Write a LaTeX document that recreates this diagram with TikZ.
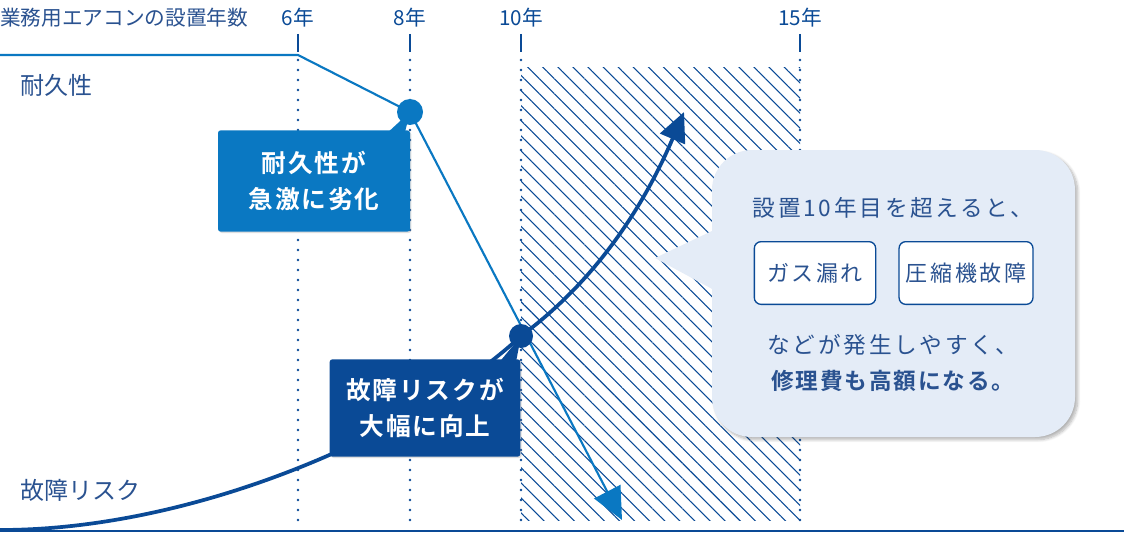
\documentclass[tikz,border=0pt]{standalone}
\usepackage{fontspec}
\setmainfont{Noto Sans CJK JP}
\newfontfamily\spfont[LetterSpace=12]{Noto Sans CJK JP}
\newfontfamily\spbfont[LetterSpace=8,BoldFont={Noto Sans CJK JP Bold}]{Noto Sans CJK JP}
\usetikzlibrary{patterns.meta,arrows.meta,shadows.blur}
\definecolor{navy}{HTML}{0A4A96}
\definecolor{mblue}{HTML}{0A78C2}
\definecolor{lbg}{HTML}{E4ECF7}
\definecolor{txt}{HTML}{2A5290}
\tikzset{
  yr/.style={text=navy,font=\fontsize{15.5}{15}\selectfont},
  vline/.style={navy,line width=2.2pt,dash pattern=on 0pt off 7.5pt,line cap=round},
  tick/.style={navy,line width=1pt},
  callout/.style={text=white,font=\spbfont\bfseries\fontsize{18.5}{27}\selectfont,align=center,rounded corners=2pt},
  optbox/.style={draw=navy,line width=1pt,fill=white,rounded corners=5pt,text=txt,font=\spfont\fontsize{16.5}{16}\selectfont,minimum height=47pt,inner xsep=5pt},
  ctext/.style={text=txt,font=\spfont\fontsize{17}{17}\selectfont},
}
\begin{document}
\begin{tikzpicture}[x=0.75pt,y=-0.75pt]
\useasboundingbox (0,0) rectangle (1124,535);
% hatched region
\fill[pattern={Lines[angle=-45,distance=8pt,line width=0.8pt]},pattern color=navy] (521,68) rectangle (800,520);
% header
\node[anchor=west,text=txt,font=\fontsize{15.5}{15}\selectfont,inner xsep=0pt] (hdr) at (0,18) {業務用エアコンの設置年数};
\foreach \x/\l/\n in {298/6年/a,410/8年/b,521/10年/c,800/15年/d}{
  \node[yr] (y\n) at (\x,18) {\l};
  \draw[tick] (\x,34) -- (\x,52);
  \draw[vline] (\x,60) -- (\x,530);
}
% baseline
\draw[navy,line width=1.2pt] (0,531) -- (1124,531);
% labels
\node[anchor=west,text=txt,font=\fontsize{18}{18}\selectfont] (lab1) at (16,85) {耐久性};
\node[anchor=west,text=txt,font=\fontsize{18}{18}\selectfont] (lab2) at (16,490) {故障リスク};
% durability line
\coordinate (d0) at (0,55);
\coordinate (d1) at (298,55);
\coordinate (d2) at (410,112);
\coordinate (d3) at (622,520);
\draw[mblue,line width=1.6pt,-{Triangle[length=24pt,width=22pt]}] (d0) -- (d1) -- (d2) -- (d3);
% risk curve
\coordinate (r0) at (0,530);
\coordinate (r1) at (521,336);
\coordinate (r2) at (684,112);
\draw[navy,line width=2.8pt] (r0) .. controls (200,530) and (420,430) .. (r1);
\draw[navy,line width=2.8pt,-{Triangle[length=22pt,width=20pt]}] (r1) .. controls (590,285) and (640,215) .. (r2);
% callout 1
\node[callout,fill=mblue,minimum width=144pt,minimum height=76pt,drop shadow={opacity=0.25,shadow xshift=1pt,shadow yshift=-1pt}] (c1) at (314,181) {耐久性が\\急激に劣化};
\fill[mblue] (385,135) -- (d2) -- (405,132) -- cycle;
\fill[mblue] (d2) circle (13);
% callout 2
\node[callout,fill=navy,minimum width=143pt,minimum height=73pt,drop shadow={opacity=0.25,shadow xshift=1pt,shadow yshift=-1pt}] (c2) at (425,408) {故障リスクが\\大幅に向上};
\fill[navy] (497,365) -- (r1) -- (516,362) -- cycle;
\fill[navy] (r1) circle (12);
% callout 3
\fill[lbg,blur shadow={shadow blur steps=8,shadow opacity=30,shadow xshift=2pt,shadow yshift=-2pt}] (712,150) [rounded corners=30pt] -- (1075,150) -- (1075,437) -- (712,437) -- cycle;
\fill[lbg] (714,230) -- (655,258) -- (714,290) -- cycle;
\node[ctext] (t1) at (893,208) {設置10年目を超えると、};
\node[optbox,minimum width=91pt] (o1) at (815,273) {ガス漏れ};
\node[optbox,minimum width=100pt] (o2) at (966,273) {圧縮機故障};
\node[ctext] (t2) at (893,345) {などが発生しやすく、};
\node[ctext,font=\spbfont\bfseries\fontsize{17}{17}\selectfont] (t3) at (893,381) {修理費も高額になる。};
\end{tikzpicture}
\end{document}
